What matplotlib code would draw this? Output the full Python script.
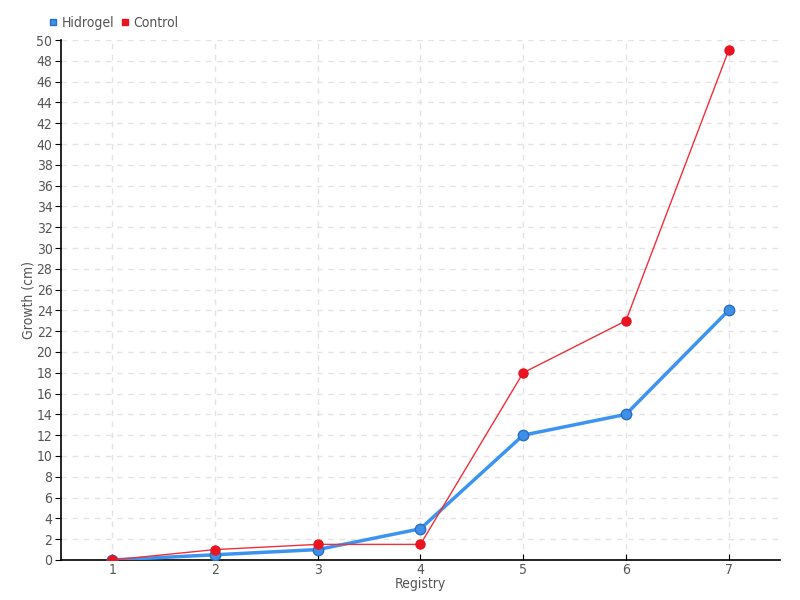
import matplotlib.pyplot as plt
from matplotlib.ticker import MultipleLocator

registry = [1, 2, 3, 4, 5, 6, 7]
hidrogel = [0, 0.5, 1, 3, 12, 14, 24]
control = [0, 1, 1.5, 1.5, 18, 23, 49]

plt.rcParams['font.family'] = ['DejaVu Sans']
plt.rcParams['font.stretch'] = 'condensed'

fig = plt.figure(figsize=(8, 6), dpi=100)
ax = fig.add_axes([0.076, 0.0667, 0.899, 0.8666])

ax.plot(registry, hidrogel, color='#3d94f0', lw=2.5, marker='o', markersize=7.5,
        markerfacecolor='#3d8fe8', markeredgecolor='#2a6fc0', markeredgewidth=1,
        label='Hidrogel', zorder=3)
ax.plot(registry, control, color='#f0303c', lw=1, marker='o', markersize=6.5,
        markerfacecolor='#e8141f', markeredgecolor='#e8141f',
        label='Control', zorder=4)

ax.set_xlim(0.5, 7.5)
ax.set_ylim(0, 50)
ax.yaxis.set_major_locator(MultipleLocator(2))
ax.set_xticks(registry)

ax.grid(True, color='#e4e4e4', linestyle=(0, (4, 4)), linewidth=1)
ax.set_axisbelow(True)
for s in ['top', 'right']:
    ax.spines[s].set_visible(False)
ax.spines['left'].set_linewidth(1.2)
ax.spines['bottom'].set_linewidth(1.2)

ax.tick_params(axis='y', direction='out', length=4, colors='#555555', labelsize=10, pad=2)
ax.tick_params(axis='x', direction='in', length=4, colors='#555555', labelsize=10, pad=2)
ax.tick_params(axis='both', color='black')

ax.set_xlabel('Registry', color='#555555', fontsize=10, labelpad=0)
ax.set_ylabel('Growth (cm)', color='#555555', fontsize=10, labelpad=1)

leg = ax.legend(loc='lower left', bbox_to_anchor=(-0.03, 1.0), ncol=2, frameon=False,
                fontsize=10, handlelength=0.6, handletextpad=0.3, columnspacing=0.5,
                borderaxespad=0.3)
for h in leg.legend_handles:
    h.set_marker('s')
    h.set_linestyle('')
    h.set_markersize(5)
for t in leg.get_texts():
    t.set_color('#555555')

fig.savefig('out.png', dpi=100)
